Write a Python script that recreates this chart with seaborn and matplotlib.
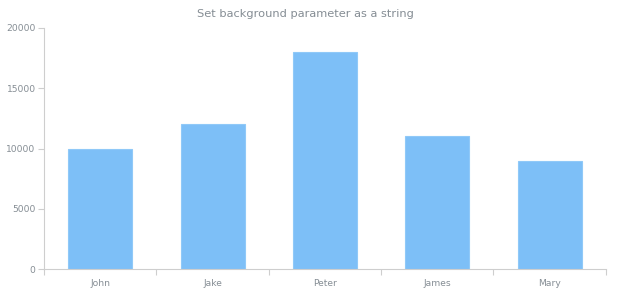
import matplotlib
matplotlib.use("Agg")
import matplotlib.pyplot as plt
import seaborn as sns
import pandas as pd
import numpy as np

names = ["John", "Jake", "Peter", "James", "Mary"]
values = [10000, 12000, 18000, 11000, 9000]
yticks = [0, 5000, 10000, 15000, 20000]

sns.set_theme(style="white")
plt.rcParams['font.family'] = ['DejaVu Sans']

df = pd.DataFrame({"name": names, "value": values})

fig = plt.figure(figsize=(6.2, 3.0), dpi=100)
fig.patch.set_facecolor("white")
ax = fig.add_axes([0.071, 0.103, 0.906, 0.804])
sns.barplot(data=df, x="name", y="value", color="#7dbff7", saturation=1,
            width=0.57, edgecolor="#90c9f8", linewidth=0.8, ax=ax)

ax.set_ylim(0, 20000)
ax.set_xlim(-0.5, len(names) - 0.5)
ax.set_yticks(yticks)
ax.set_yticklabels([str(v) for v in yticks])
ax.set_xlabel("")
ax.set_ylabel("")
ax.set_title("Set background parameter as a string", fontsize=8.2, color="#858d94",
             pad=8, x=0.466)

for s in ["top", "right"]:
    ax.spines[s].set_visible(False)
for s in ["left", "bottom"]:
    ax.spines[s].set_color("#cecece")
    ax.spines[s].set_linewidth(0.8)

ax.tick_params(axis="y", which="major", length=4, width=0.8, color="#cecece",
               labelsize=6.6, labelcolor="#858d94", pad=2, left=True)
ax.tick_params(axis="x", which="major", length=0, labelsize=6.6, labelcolor="#858d94", pad=7)
ax.set_xticks(np.arange(-0.5, len(names)), minor=True)
ax.tick_params(axis="x", which="minor", length=4, width=0.8, color="#cecece", bottom=True)

fig.savefig("out.png", dpi=100, facecolor="white")
